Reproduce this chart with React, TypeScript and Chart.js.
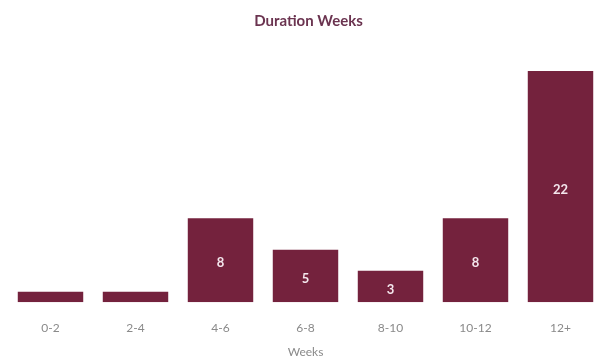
import React, { useEffect, useRef } from "react";
import { Chart, registerables } from "chart.js";

Chart.register(...registerables);

const categories = ["0-2", "2-4", "4-6", "6-8", "8-10", "10-12", "12+"];
const counts = [1, 1, 8, 5, 3, 8, 22];
const titleText = "Duration Weeks";
const xTitle = "Weeks";

const BAR = "#74223d";
const FONT = "Lato, 'Open Sans', sans-serif";

const valueLabels = {
  id: "valueLabels",
  afterDatasetsDraw(chart: any) {
    const { ctx } = chart;
    const meta = chart.getDatasetMeta(0);
    const data = chart.data.datasets[0].data as number[];
    ctx.save();
    ctx.fillStyle = "#f3e6ec";
    ctx.font = `bold 13px ${FONT}`;
    ctx.textAlign = "center";
    ctx.textBaseline = "middle";
    meta.data.forEach((bar: any, i: number) => {
      const v = data[i];
      if (v < 2) return;
      const cy = (bar.y + bar.base) / 2 + 3;
      ctx.fillText(String(v), bar.x, cy);
    });
    ctx.restore();
  },
};

export default function App() {
  const ref = useRef<HTMLCanvasElement | null>(null);
  useEffect(() => {
    if (!ref.current) return;
    const chart = new Chart(ref.current, {
      type: "bar",
      data: {
        labels: categories,
        datasets: [
          {
            data: counts,
            backgroundColor: BAR,
            barPercentage: 0.77,
            categoryPercentage: 1,
          },
        ],
      },
      options: {
        animation: false,
        responsive: false,
        maintainAspectRatio: false,
        layout: { padding: { left: 8, right: -6, top: 0, bottom: 2 } },
        plugins: {
          legend: { display: false },
          tooltip: { enabled: false },
          title: {
            display: true,
            text: titleText,
            color: "#6b3450",
            font: { family: FONT, size: 15, weight: "bold" },
            padding: { top: 12, bottom: 41 },
          },
        },
        scales: {
          x: {
            grid: { display: false },
            border: { display: false },
            ticks: {
              color: "#8a8a8a",
              font: { family: FONT, size: 12 },
              padding: 11,
            },
            title: {
              display: true,
              text: xTitle,
              color: "#8a8a8a",
              font: { family: FONT, size: 12 },
              padding: { top: -2, bottom: 0 },
            },
          },
          y: {
            display: false,
            min: 0,
            max: 22,
          },
        },
      },
      plugins: [valueLabels],
    });
    return () => chart.destroy();
  }, []);
  return (
    <div style={{ position: "absolute", left: 0, top: 0, width: 603, height: 361, background: "#fff" }}>
      <canvas ref={ref} width={603} height={361} style={{ display: "block" }} />
    </div>
  );
}
